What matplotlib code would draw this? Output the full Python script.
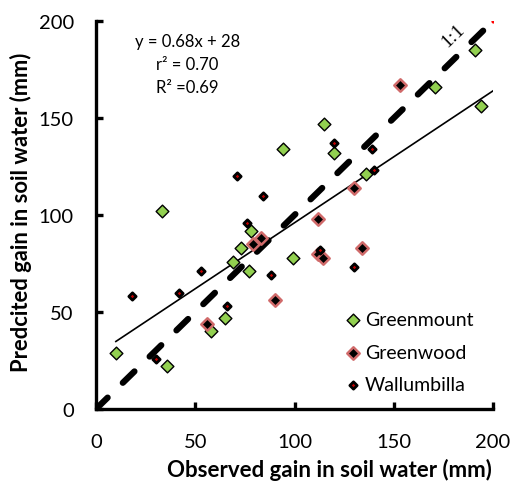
import numpy as np
import matplotlib
matplotlib.use("Agg")
from matplotlib import pyplot as plt

plt.rcParams['font.family'] = ['Lato', 'DejaVu Sans']

# Greenmount
gm_obs = [10, 33, 36, 58, 65, 69, 73, 77, 78, 99, 94, 115, 120, 136, 171, 191, 194]
gm_pred = [29, 102, 22, 40, 47, 76, 83, 71, 92, 78, 134, 147, 132, 121, 166, 185, 156]
# Greenwood
gw_obs = [56, 79, 83, 90, 112, 112, 114.5, 130, 134, 153]
gw_pred = [44, 85, 88, 56, 98, 80, 78, 114, 83, 167]
# Wallumbilla
wb_obs = [18, 30, 42, 53, 66, 71, 76, 84, 88, 113, 120, 130, 139, 140]
wb_pred = [58, 26, 60, 71, 53, 120, 96, 110, 69, 82, 137, 73, 134, 123]

slope, intercept = 0.68, 28
fit_x = [10, 200]
one_to_one = [0, 200]

fig = plt.figure(figsize=(5.12, 4.89), dpi=100)
ax = fig.add_axes([0.1875, 0.1616, 0.7755, 0.7934])

# 1:1 line
ax.plot(one_to_one, one_to_one, color='black', lw=4.5, ls=(0, (2.6, 3.4)),
        dash_capstyle='round', zorder=2)
ax.plot(one_to_one, one_to_one, ls='none', marker='o', ms=2, color='red', zorder=2)

# regression line
fx = np.array(fit_x)
ax.plot(fx, slope * fx + intercept, color='black', lw=1.2, zorder=3)

ax.scatter(gm_obs, gm_pred, marker='D', s=42, facecolor='#92D050',
           edgecolor='black', linewidths=1.0, label='Greenmount', zorder=4)
ax.scatter(gw_obs, gw_pred, marker='D', s=40, facecolor='black',
           edgecolor='#D06A6A', linewidths=1.8, label='Greenwood', zorder=4)
ax.scatter(wb_obs, wb_pred, marker='D', s=14, facecolor='#C00000',
           edgecolor='black', linewidths=2.0, label='Wallumbilla', zorder=5)

ax.set_xlim(0, 200)
ax.set_ylim(0, 200)
ax.set_xticks([0, 50, 100, 150, 200])
ax.set_yticks([0, 50, 100, 150, 200])
ax.spines['top'].set_visible(False)
ax.spines['right'].set_visible(False)
for s in ['left', 'bottom']:
    ax.spines[s].set_linewidth(2.4)
ax.tick_params(direction='in', length=5, width=2.4, labelsize=14.5)
ax.tick_params(axis='x', pad=17)
ax.tick_params(axis='y', pad=16)

ax.set_xlabel('Observed gain in soil water (mm)', fontsize=16, fontweight='bold', va='center')
ax.set_ylabel('Predcited gain in soil water (mm)', fontsize=15.8, fontweight='bold', va='center')
ax.xaxis.set_label_coords(0.587, -0.155)
ax.yaxis.set_label_coords(-0.19, 0.51)

ax.text(46, 178, 'y = 0.68x + 28\nr² = 0.70\nR² =0.69', ha='center', va='center',
        fontsize=12, linespacing=1.55)
ax.text(180, 193, '1:1', rotation=44, ha='center', va='center', fontsize=14,
        family='Liberation Serif')

ax.legend(loc='lower right', frameon=False, fontsize=14, labelspacing=0.8,
          handlelength=1.1, handletextpad=0.07, bbox_to_anchor=(0.99, 0.0),
          borderaxespad=0.4)

fig.savefig('out.png', dpi=100)
